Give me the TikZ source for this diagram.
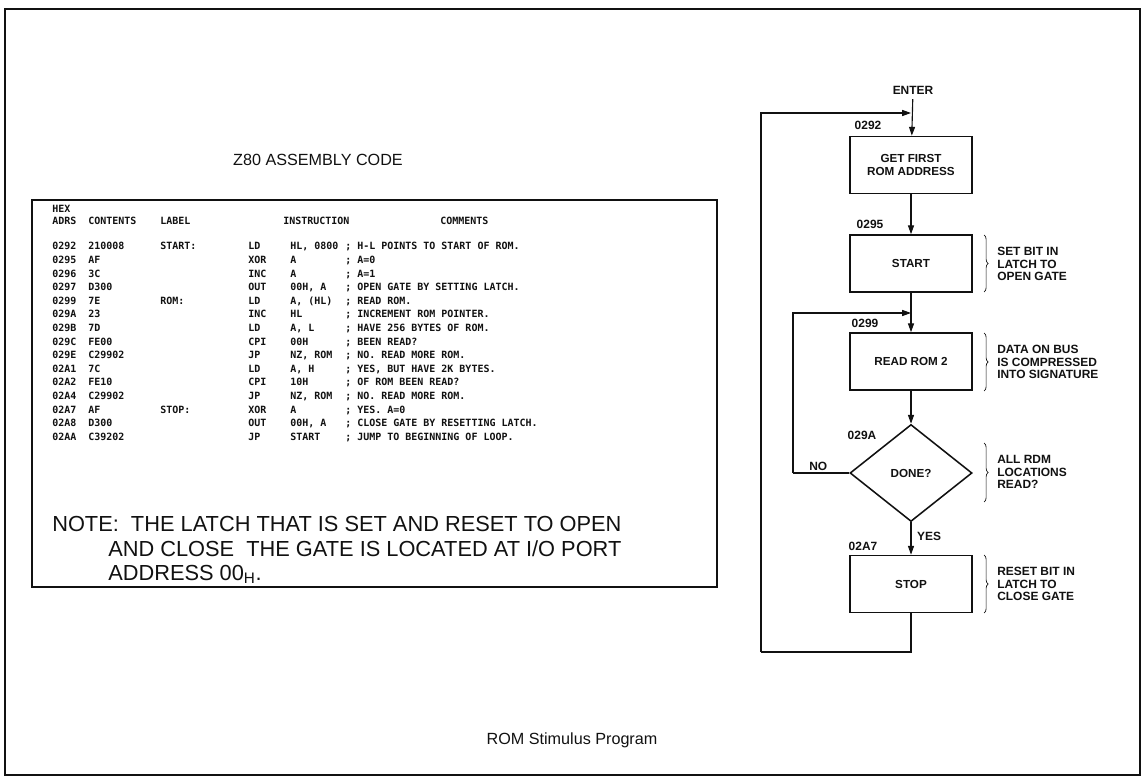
\documentclass[tikz,border=0pt]{standalone}
\usepackage{fontspec}
\setmainfont{Liberation Sans}
\newfontfamily\codefont{DejaVu Sans Mono}
\usepackage{tikz}
\usetikzlibrary{arrows.meta,shapes.geometric,decorations.pathreplacing}
\definecolor{cink}{HTML}{111111}
\tikzset{>={Triangle[length=2.2mm,width=1.5mm]},
  fbox/.style={draw=cink,line width=1.1pt,minimum width=3.05cm,minimum height=1.425cm,
    align=center,font=\fontsize{8.3}{9.5}\selectfont\bfseries},
  fdec/.style={draw=cink,line width=1.1pt,diamond,minimum width=3.05cm,minimum height=2.425cm,
    inner sep=0pt,font=\fontsize{8.3}{9.5}\selectfont\bfseries},
  flow/.style={cink,line width=0.8pt},
  addr/.style={font=\fontsize{8.5}{9}\selectfont\bfseries,inner sep=1pt},
  side/.style={anchor=west,align=left,inner sep=0pt,font=\fontsize{8.5}{8.9}\selectfont\bfseries},
  brc/.style={cink,decorate,decoration={brace,amplitude=3pt},line width=0.5pt},
  code/.style={anchor=base west,inner sep=0pt,font=\codefont\fontsize{7.1}{8}\selectfont\bfseries},
  big/.style={inner sep=0pt,font=\fontsize{11.5}{14}\selectfont},
  notetxt/.style={inner sep=0pt,anchor=base west,font=\fontsize{15.5}{18}\selectfont}}

\begin{document}
\begin{tikzpicture}[x=0.025cm,y=-0.025cm,text=cink]
\useasboundingbox (0,0) rectangle (1143,780);

% ============ outer frame and caption ============
\draw[cink,line width=1.2pt] (5,9) rectangle (1140,775);
\node[big] (caption) at (572,740) {ROM Stimulus Program};

% ============ assembly listing ============
\node[big] (title) at (318,160) {Z80 ASSEMBLY CODE};
\draw[cink,line width=1.1pt] (32,200) rectangle (717,587);
\node[code] (hhex) at (52,213) {HEX};
\node[code] (hadr) at (52,225) {ADRS};
\node[code] (hcon) at (88,225) {CONTENTS};
\node[code] (hlab) at (160,225) {LABEL};
\node[code] (hins) at (283,225) {INSTRUCTION};
\node[code] (hcom) at (440,225) {COMMENTS};
\foreach \i/\adr/\con/\lab/\ins/\opd/\com in {
  0/0292/210008/START:/LD/{HL, 0800}/{H-L POINTS TO START OF ROM.},
  1/0295/AF//XOR/A/{A=0},
  2/0296/3C//INC/A/{A=1},
  3/0297/D300//OUT/{00H, A}/{OPEN GATE BY SETTING LATCH.},
  4/0299/7E/ROM:/LD/{A, (HL)}/{READ ROM.},
  5/029A/23//INC/HL/{INCREMENT ROM POINTER.},
  6/029B/7D//LD/{A, L}/{HAVE 256 BYTES OF ROM.},
  7/029C/FE00//CPI/00H/{BEEN READ?},
  8/029E/C29902//JP/{NZ, ROM}/{NO. READ MORE ROM.},
  9/02A1/7C//LD/{A, H}/{YES, BUT HAVE 2K BYTES.},
  10/02A2/FE10//CPI/10H/{OF ROM BEEN READ?},
  11/02A4/C29902//JP/{NZ, ROM}/{NO. READ MORE ROM.},
  12/02A7/AF/STOP:/XOR/A/{YES. A=0},
  13/02A8/D300//OUT/{00H, A}/{CLOSE GATE BY RESETTING LATCH.},
  14/02AA/C39202//JP/START/{JUMP TO BEGINNING OF LOOP.}}{
  \node[code] (adr\i) at (52,250+13.6*\i) {\adr};
  \node[code] (con\i) at (88,250+13.6*\i) {\con};
  \node[code] (lab\i) at (160,250+13.6*\i) {\lab};
  \node[code] (ins\i) at (248,250+13.6*\i) {\ins};
  \node[code] (opd\i) at (290,250+13.6*\i) {\opd};
  \node[code] (com\i) at (345,250+13.6*\i) {; \com};
}
\node[notetxt] (note1) at (52,531) {NOTE:\ \ THE LATCH THAT IS SET AND RESET TO OPEN};
\node[notetxt] (note2) at (108,556) {AND CLOSE\ \ THE GATE IS LOCATED AT I/O PORT};
\node[notetxt] (note3) at (108,580) {ADDRESS 00\textsubscript{H}.};

% ============ flow chart ============
\node[font=\fontsize{8.5}{9}\selectfont\bfseries] (enter) at (913,90) {ENTER};
\node[fbox] (first) at (911,165) {GET FIRST\\ROM ADDRESS};
\node[fbox] (start) at (911,263.5) {START};
\node[fbox] (read) at (911,361.5) {READ ROM 2};
\node[fdec] (done) at (911,473) {DONE?};
\node[fbox] (stop) at (911,584) {STOP};

\node[addr] (a0292) at (868,125) {0292};
\node[addr] (a0295) at (870,224) {0295};
\node[addr] (a0299) at (865,323) {0299};
\node[addr] (a029A) at (862,435) {029A};
\node[addr] (a02A7) at (863,546) {02A7};

\coordinate (j1) at (911,113);
\coordinate (j2) at (911,313);
\coordinate (lp1) at (761,652);
\coordinate (lp2) at (793,473);

\draw[flow,->] (enter) -- (first);
\draw[flow,->] (first) -- (start);
\draw[flow,->] (start) -- (read);
\draw[flow,->] (read) -- (done);
\draw[flow,->] (done) -- node[addr,right=3pt,pos=0.45] (yes) {YES} (stop);
\draw[flow] (done.west) -- node[addr,above,pos=0.55] (no) {NO} (lp2);
\draw[flow,->] (lp2) |- (j2);
\draw[flow] (stop) -- (stop|-lp1) -- (lp1);
\draw[flow,->] (lp1) |- (j1);

% side notes with braces
\draw[brc] (984,235) -- (984,292);
\node[side] (s1) at (997,264) {SET BIT IN\\LATCH TO\\OPEN GATE};
\draw[brc] (984,333) -- (984,391);
\node[side] (s2) at (997,362) {DATA ON BUS\\IS COMPRESSED\\INTO SIGNATURE};
\draw[brc] (984,443) -- (984,502);
\node[side] (s3) at (997,472) {ALL RDM\\LOCATIONS\\READ?};
\draw[brc] (984,555) -- (984,613);
\node[side] (s4) at (997,584) {RESET BIT IN\\LATCH TO\\CLOSE GATE};

\end{tikzpicture}
\end{document}
